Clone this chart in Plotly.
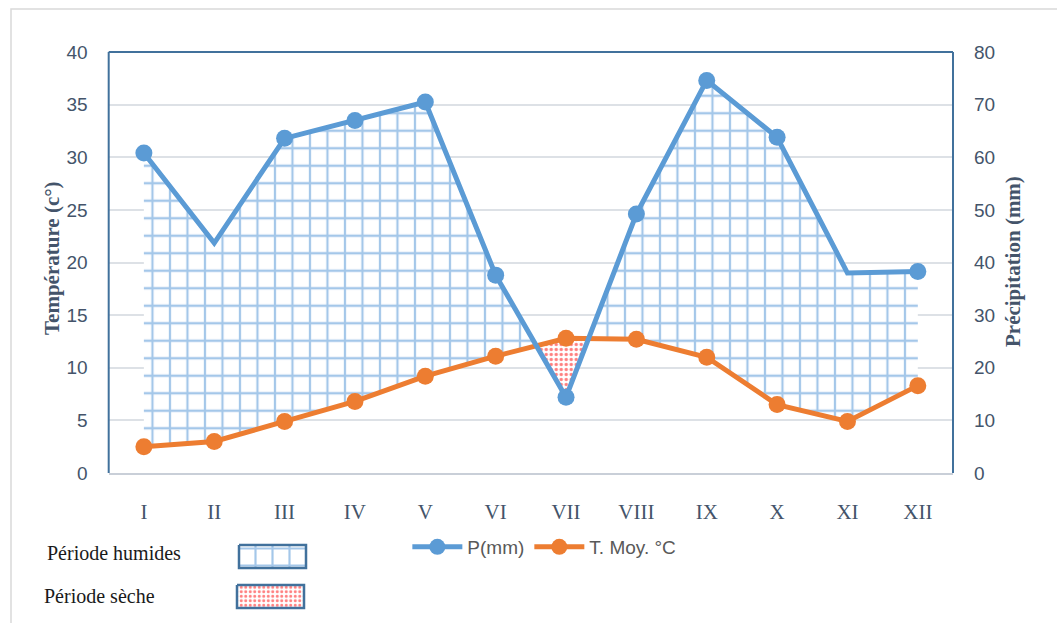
import plotly.graph_objects as go

# Monthly climate data
months = ["I", "II", "III", "IV", "V", "VI", "VII", "VIII", "IX", "X", "XI", "XII"]
precip_mm = [60.8, 43.7, 63.6, 67.0, 70.5, 37.6, 14.4, 49.2, 74.6, 63.8, 38.0, 38.3]
temp_mean = [2.5, 3.0, 4.9, 6.8, 9.2, 11.1, 12.8, 12.7, 11.0, 6.5, 4.9, 8.3]

temp_ticks = [0, 5, 10, 15, 20, 25, 30, 35, 40]
precip_ticks = [0, 10, 20, 30, 40, 50, 60, 70, 80]

W, H = 1057, 623
BLUE = "#5B9BD5"
ORANGE = "#ED7D31"
SLATE = "#44546A"
FRAME = "#41719C"

# Plot area in pixels
PL, PR, PT, PB = 108.7, 953.0, 52.0, 473.0

x = list(range(len(months)))
half_p = [p / 2.0 for p in precip_mm]  # P = 2T convention (Gaussen)

# Densify with crossing points of P/2 and T so the humid / dry areas close cleanly
xd, pd_, td = [], [], []
for i in range(len(x)):
    xd.append(x[i]); pd_.append(half_p[i]); td.append(temp_mean[i])
    if i < len(x) - 1:
        d0 = half_p[i] - temp_mean[i]
        d1 = half_p[i + 1] - temp_mean[i + 1]
        if d0 * d1 < 0:
            f = d0 / (d0 - d1)
            xc = x[i] + f
            tc = temp_mean[i] + f * (temp_mean[i + 1] - temp_mean[i])
            xd.append(xc); pd_.append(tc); td.append(tc)

humid_top = [max(p, t) for p, t in zip(pd_, td)]
dry_bottom = [min(p, t) for p, t in zip(pd_, td)]

GRID_PAT = dict(shape="+", fgcolor="#4A8FD4", bgcolor="white", size=17.5, solidity=0.24)
DOT_PAT = dict(shape=".", fgcolor="#FF0000", bgcolor="white", size=5, solidity=0.35)

fig = go.Figure()

# Humid period (P > 2T): blue grid hatch
fig.add_trace(go.Scatter(x=xd, y=td, mode="lines", line=dict(width=0),
                         showlegend=False, hoverinfo="skip"))
fig.add_trace(go.Scatter(x=xd, y=humid_top, mode="lines", line=dict(width=0),
                         fill="tonexty", fillcolor="white", fillpattern=GRID_PAT,
                         showlegend=False, hoverinfo="skip"))

# Dry period (P < 2T): red dotted
fig.add_trace(go.Scatter(x=xd, y=dry_bottom, mode="lines", line=dict(width=0),
                         showlegend=False, hoverinfo="skip"))
fig.add_trace(go.Scatter(x=xd, y=td, mode="lines", line=dict(width=0),
                         fill="tonexty", fillcolor="white", fillpattern=DOT_PAT,
                         showlegend=False, hoverinfo="skip"))

# Precipitation: markers hidden on II and XI
shown = [i for i, m in enumerate(months) if m not in ("II", "XI")]
fig.add_trace(go.Scatter(x=x, y=precip_mm, name="P(mm)", yaxis="y2",
                         mode="lines+markers",
                         line=dict(color=BLUE, width=5),
                         marker=dict(color=BLUE, size=17),
                         selectedpoints=shown,
                         selected=dict(marker=dict(opacity=1)),
                         unselected=dict(marker=dict(opacity=0))))
fig.add_trace(go.Scatter(x=x, y=temp_mean, name="T. Moy. °C",
                         mode="lines+markers",
                         line=dict(color=ORANGE, width=5),
                         marker=dict(color=ORANGE, size=17)))

# Swatches for the period key (own small axes, pixel units)
KX0, KX1, KY0, KY1 = 230, 315, 540, 615
def swatch(x0, x1, y0, y1, pattern):
    fig.add_trace(go.Scatter(x=[x0, x1, x1, x0, x0], y=[y0, y0, y1, y1, y0],
                             xaxis="x3", yaxis="y3", mode="lines", fill="toself",
                             fillcolor="white", fillpattern=pattern,
                             line=dict(color=FRAME, width=2.5),
                             showlegend=False, hoverinfo="skip"))

swatch(239, 306, 545, 568, dict(GRID_PAT, size=17))
swatch(237, 304, 585, 608, dict(DOT_PAT, size=4.5))

tick_font = dict(family="Liberation Sans Narrow, Arial Narrow, sans-serif", size=19, color=SLATE)

fig.update_layout(
    width=W, height=H,
    margin=dict(l=0, r=0, t=0, b=0, pad=0, autoexpand=False),
    paper_bgcolor="white", plot_bgcolor="rgba(0,0,0,0)",
    xaxis=dict(domain=[PL / W, PR / W], range=[-0.5, 11.5],
               tickmode="array", tickvals=x, ticktext=months,
               tickfont=dict(family="Liberation Serif, serif", size=21, color=SLATE),
               ticklabelstandoff=19, automargin=False,
               showgrid=False, zeroline=False,
               showline=True, linecolor="#C9CFD8", linewidth=2, ticks=""),
    yaxis=dict(domain=[1 - PB / H, 1 - PT / H], range=[0, 40],
               tickmode="array", tickvals=temp_ticks,
               tickfont=tick_font, ticklabelstandoff=20, automargin=False,
               showgrid=True, gridcolor="#DDE1E6", gridwidth=1.5,
               zeroline=False, showline=False, ticks=""),
    yaxis2=dict(overlaying="y", side="right", range=[0, 80],
                tickmode="array", tickvals=precip_ticks,
                tickfont=tick_font, ticklabelstandoff=20, automargin=False,
                showgrid=False, zeroline=False, showline=False, ticks=""),
    xaxis3=dict(domain=[KX0 / W, KX1 / W], range=[KX0, KX1], visible=False,
                fixedrange=True, anchor="y3", automargin=False),
    yaxis3=dict(domain=[1 - KY1 / H, 1 - KY0 / H], range=[KY1, KY0], visible=False,
                fixedrange=True, anchor="x3", automargin=False),
    legend=dict(orientation="h", traceorder="normal",
                x=0.515, y=1 - 547 / H, xanchor="center", yanchor="middle",
                font=dict(family="Liberation Sans, Arial, sans-serif", size=19, color="#595959"),
                bgcolor="rgba(0,0,0,0)", itemwidth=50),
    showlegend=True,
    shapes=[
        # outer chart border
        dict(type="rect", xref="paper", yref="paper",
             x0=11 / W, x1=1.05, y0=-0.05, y1=1 - 9 / H,
             line=dict(color="#D9D9D9", width=1.5), layer="below"),
        # plot-area frame
        dict(type="line", xref="paper", yref="paper", x0=PL / W, x1=PL / W,
             y0=1 - PB / H, y1=1 - PT / H, line=dict(color=FRAME, width=2)),
        dict(type="line", xref="paper", yref="paper", x0=PR / W, x1=PR / W,
             y0=1 - PB / H, y1=1 - PT / H, line=dict(color=FRAME, width=2)),
        dict(type="line", xref="paper", yref="paper", x0=PL / W, x1=PR / W,
             y0=1 - PT / H, y1=1 - PT / H, line=dict(color=FRAME, width=2)),
    ],
    annotations=[
        dict(text="<b>Température (c°)</b>", textangle=-90, xref="paper", yref="paper",
             x=38 / W, y=1 - 258 / H, showarrow=False,
             font=dict(family="Liberation Serif, serif", size=21, color=SLATE)),
        dict(text="<b>Précipitation (mm)</b>", textangle=-90, xref="paper", yref="paper",
             x=1027 / W, y=1 - 262 / H, showarrow=False,
             font=dict(family="Liberation Serif, serif", size=21, color=SLATE)),
        dict(text="Période humides", xref="paper", yref="paper", x=45 / W, y=1 - 553 / H,
             xanchor="left", yanchor="middle", showarrow=False,
             font=dict(family="Liberation Serif, serif", size=20, color="#1A1A1A")),
        dict(text="Période sèche", xref="paper", yref="paper", x=42 / W, y=1 - 596 / H,
             xanchor="left", yanchor="middle", showarrow=False,
             font=dict(family="Liberation Serif, serif", size=20, color="#1A1A1A")),
    ],
)

fig.write_html("out.html")
